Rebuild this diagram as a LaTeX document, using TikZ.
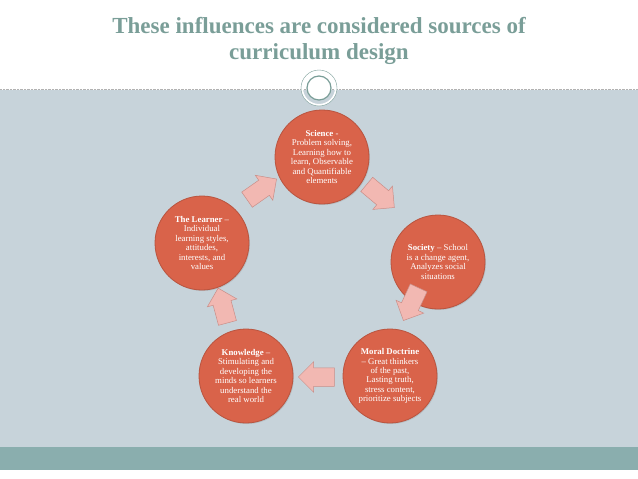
\documentclass[tikz,border=0pt]{standalone}
\usepackage{fontspec}
\setmainfont{Liberation Serif}
\usetikzlibrary{shapes.arrows,shadows}
\definecolor{bgblue}{HTML}{C7D3DA}
\definecolor{teal}{HTML}{8AAEAE}
\definecolor{titlec}{HTML}{7A9E98}
\definecolor{circ}{HTML}{D9634A}
\definecolor{circb}{HTML}{B9543F}
\definecolor{arr}{HTML}{F2B8B2}
\definecolor{arrb}{HTML}{C98E88}
\tikzset{
 topic/.style={circle,fill=circ,draw=circb,line width=0.8pt,minimum size=94pt,inner sep=0pt,text=white,font=\fontsize{8.8}{9.4}\selectfont,align=center,drop shadow={opacity=0.25,shadow xshift=1pt,shadow yshift=-1pt}},
 blockarr/.style={single arrow,fill=arr,draw=arrb,line width=0.5pt,minimum height=36pt,inner xsep=0pt,inner ysep=9pt,single arrow head extend=6pt}
}
\begin{document}
\begin{tikzpicture}[x=1pt,y=-1pt]
\useasboundingbox (0,0) rectangle (638,479);
\fill[white] (0,0) rectangle (638,479);
\fill[bgblue] (0,90) rectangle (638,447);
\fill[teal] (0,447) rectangle (638,470);
\draw[gray!60,densely dotted] (0,89) -- (638,89);
\node[font=\bfseries\fontsize{23}{26}\selectfont,text=titlec,align=center] (title) at (319,41) {These influences are considered sources of\\curriculum design};
\node[circle,fill=white,draw=titlec,line width=1.2pt,minimum size=24pt] (orn) at (319,88) {};
\node[circle,draw=white,line width=2pt,minimum size=34pt] at (319,88) {};
\draw[titlec,line width=0.4pt] (319,88) circle (18pt);
\node[topic] (sci) at (322,157) {\textbf{Science} -\\Problem solving,\\Learning how to\\learn, Observable\\and Quantifiable\\elements};
\node[topic] (soc) at (438,262) {\textbf{Society} -- School\\is a change agent,\\Analyzes social\\situations};
\node[topic] (mor) at (390,376) {\textbf{Moral Doctrine}\\-- Great thinkers\\of the past,\\Lasting truth,\\stress content,\\prioritize subjects};
\node[topic] (kno) at (246,376) {\textbf{Knowledge} --\\Stimulating and\\developing the\\minds so learners\\understand the\\real world};
\node[topic] (lea) at (202,243) {\textbf{The Learner} --\\Individual\\learning styles,\\attitudes,\\interests, and\\values};
\node[blockarr,rotate=35] (a1) at (258,192) {};
\node[blockarr,rotate=-40] (a2) at (377,193) {};
\node[blockarr,rotate=-115] (a3) at (413,300) {};
\node[blockarr,rotate=180] (a4) at (321,377) {};
\node[blockarr,rotate=105] (a5) at (224,310) {};
\end{tikzpicture}
\end{document}
